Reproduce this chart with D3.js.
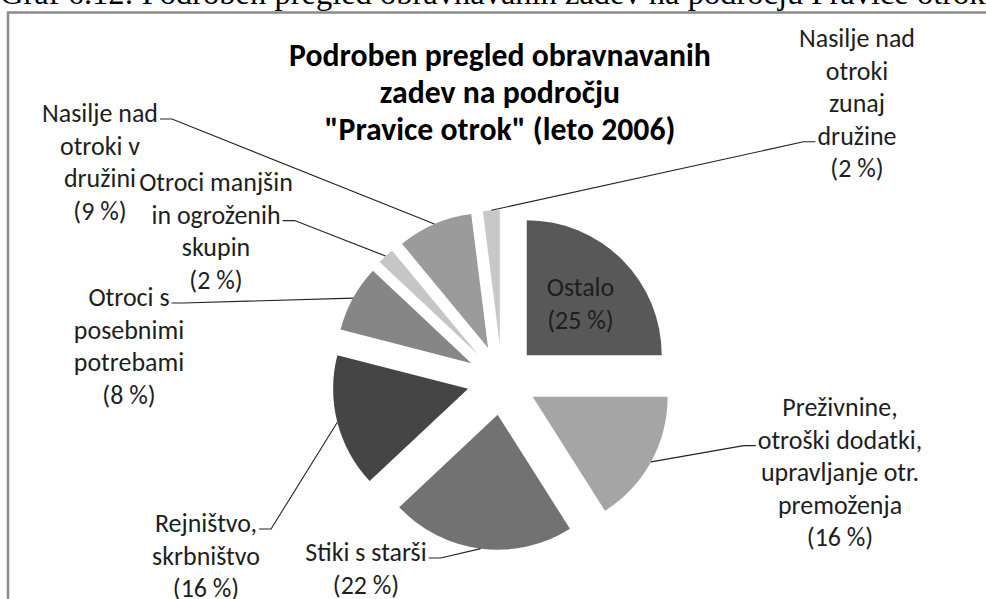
<!DOCTYPE html>
<html>
<head>
<meta charset="utf-8">
<script src="https://cdn.jsdelivr.net/npm/d3@7"></script>
<style>
  body { margin: 0; background: #fff; }
  svg { display: block; }
</style>
</head>
<body>
<script>
// data, clockwise from 12 o'clock
var categories = ['Ostalo', 'Preživnine', 'Stiki s starši', 'Rejništvo', 'Otroci s posebnimi potrebami',
  'Otroci manjšin', 'Nasilje v družini', 'Nasilje zunaj družine'];
var shares = [25, 16, 22, 16, 8, 2, 9, 2];
var labelLines = [
  ['Ostalo'],
  ['Preživnine,', 'otroški dodatki,', 'upravljanje otr.', 'premoženja'],
  ['Stiki s starši'],
  ['Rejništvo,', 'skrbništvo'],
  ['Otroci s', 'posebnimi', 'potrebami'],
  ['Otroci manjšin', 'in ogroženih', 'skupin'],
  ['Nasilje nad', 'otroki v', 'družini'],
  ['Nasilje nad', 'otroki', 'zunaj', 'družine']
];
var sliceColors = ['#585858', '#a5a5a5', '#727272', '#454545', '#868686', '#c6c6c6', '#9b9b9b', '#c8c8c8'];
var titleLines = ['Podroben pregled obravnavanih', 'zadev na področju', '"Pravice otrok" (leto 2006)'];
var caption = 'Graf 6.12: Podroben pregled obravnavanih zadev na področju Pravice otrok';

// label placement (layout only): centre x, first line centre y, line the leader meets, side
var labelSpots = [
  null,
  { x: 840, y: 407, at: 1, side: 'left' },
  { x: 366, y: 552, at: 0, side: 'right' },
  { x: 206, y: 523, at: 0, side: 'right' },
  { x: 129, y: 297, at: 0, side: 'right' },
  { x: 216, y: 182, at: 1, side: 'right' },
  { x: 100, y: 113, at: 0, side: 'right' },
  { x: 857, y: 38, at: 3, side: 'left' }
];

var W = 986, H = 599;
var CX = 502, CY = 380, R = 135, EXPLODE = 35;
var LINE_H = 32.6;
var FONT = 'Carlito, Calibri, Lato, "Open Sans", sans-serif';

var data = categories.map(function(c, i) { return { name: c, value: shares[i], i: i }; });

var svg = d3.select('body').append('svg')
  .attr('width', W)
  .attr('height', H);

// page caption, mostly cut off at the top
svg.append('text')
  .attr('x', 0)
  .attr('y', 4)
  .style('font-family', '"Liberation Serif", "Times New Roman", serif')
  .style('font-size', '32.5px')
  .style('fill', '#000')
  .text(caption);

// chart frame
svg.append('rect')
  .attr('x', 8)
  .attr('y', 12.5)
  .attr('width', 1200)
  .attr('height', 900)
  .attr('fill', '#fff')
  .attr('stroke', '#8a8a8a')
  .attr('stroke-width', 2.5);

// size a font so that a sample string gets a given width
function fitSize(sample, weight, target) {
  var t = svg.append('text')
    .style('font-family', FONT)
    .style('font-weight', weight)
    .style('font-size', '20px')
    .text(sample);
  var w = t.node().getComputedTextLength();
  t.remove();
  return 20 * target / w;
}
var labelSize = fitSize('Nasilje nad', 'normal', 116);
var titleSize = fitSize(titleLines[0], 'bold', 422);

// title
var title = svg.append('text')
  .style('font-family', FONT)
  .style('font-weight', 'bold')
  .style('font-size', titleSize + 'px')
  .style('fill', '#000')
  .style('text-anchor', 'middle');
title.selectAll('tspan')
    .data(titleLines)
  .enter().append('tspan')
    .attr('x', 500)
    .attr('y', function(d, i) { return 66 + i * 37; })
    .text(function(d) { return d; });

// pie
var pie = d3.pie().sort(null).value(function(d) { return d.value; });
var arcs = pie(data);
var arc = d3.arc().innerRadius(0).outerRadius(R);
var rimArc = d3.arc().innerRadius(R + EXPLODE).outerRadius(R + EXPLODE);
var insideArc = d3.arc().innerRadius(EXPLODE + 76).outerRadius(EXPLODE + 76);

function shift(d) {
  var m = (d.startAngle + d.endAngle) / 2;
  return [Math.sin(m) * EXPLODE, -Math.cos(m) * EXPLODE];
}

var g = svg.append('g').attr('transform', 'translate(' + CX + ',' + CY + ')');

g.selectAll('path.slice')
    .data(arcs)
  .enter().append('path')
    .attr('class', 'slice')
    .attr('transform', function(d) { return 'translate(' + shift(d) + ')'; })
    .attr('d', arc)
    .attr('fill', function(d) { return sliceColors[d.data.i]; });

function pctText(d) { return '(' + d.data.value + ' %)'; }

// inside label (Ostalo)
arcs.forEach(function(d) {
  if (labelSpots[d.data.i]) return;
  var c = insideArc.centroid(d);
  var lines = labelLines[d.data.i].concat([pctText(d)]);
  var t = g.append('text')
    .style('font-family', FONT)
    .style('font-size', labelSize + 'px')
    .style('fill', '#1e1e1e')
    .style('text-anchor', 'middle');
  lines.forEach(function(s, k) {
    t.append('tspan')
      .attr('x', c[0])
      .attr('y', c[1] + (k - (lines.length - 1) / 2) * LINE_H + 2 + labelSize * 0.35)
      .text(s);
  });
});

// outside labels with leader lines
arcs.forEach(function(d) {
  var spot = labelSpots[d.data.i];
  if (!spot) return;
  var lines = labelLines[d.data.i].concat([pctText(d)]);
  var t = svg.append('text')
    .style('font-family', FONT)
    .style('font-size', labelSize + 'px')
    .style('fill', '#1e1e1e')
    .style('text-anchor', 'middle');
  var spans = lines.map(function(s, k) {
    return t.append('tspan')
      .attr('x', spot.x)
      .attr('y', spot.y + k * LINE_H + labelSize * 0.35)
      .text(s);
  });
  var w = spans[spot.at].node().getComputedTextLength();
  var ay = spot.y + spot.at * LINE_H + 6;
  var ax = spot.side === 'left' ? spot.x - w / 2 - 2 : spot.x + w / 2 + 2;
  var ex = spot.side === 'left' ? ax - 12 : ax + 12;
  var rim = rimArc.centroid(d);
  var pts = [[CX + rim[0], CY + rim[1]], [ex, ay], [ax, ay]];
  svg.append('path')
    .attr('d', d3.line()(pts))
    .attr('fill', 'none')
    .attr('stroke', '#222')
    .attr('stroke-width', 1.1);
});
</script>
</body>
</html>
